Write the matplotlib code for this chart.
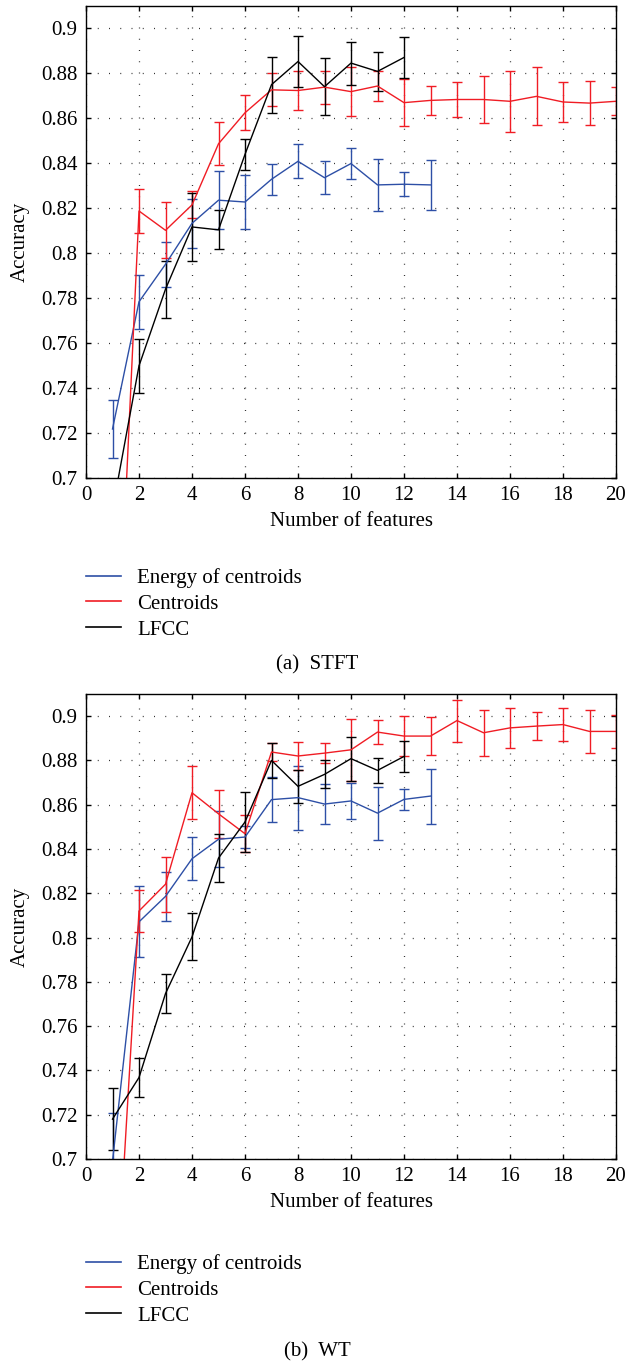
import matplotlib
matplotlib.use("Agg")
import matplotlib.pyplot as plt
from matplotlib.lines import Line2D
from matplotlib.ticker import FuncFormatter
import numpy as np

plt.rcParams['font.family'] = ['Liberation Serif', 'DejaVu Serif']
plt.rcParams['font.size'] = 15

# number of features
n_energy = np.arange(1, 14)
n_cent = np.arange(1, 21)
n_lfcc = np.arange(1, 13)

# (a) STFT
stft_energy = [0.7218, 0.7784, 0.7951, 0.8133, 0.8236, 0.8228, 0.8329, 0.8409,
               0.8336, 0.8399, 0.8304, 0.8307, 0.8304]
stft_energy_err = [0.013, 0.012, 0.010, 0.011, 0.013, 0.012, 0.007, 0.0075,
                   0.0073, 0.007, 0.0115, 0.0054, 0.011]
stft_cent = [0.564, 0.8188, 0.8102, 0.8215, 0.8487, 0.8625, 0.8727, 0.8724,
             0.8739, 0.8719, 0.8744, 0.8670, 0.8680, 0.8684, 0.8684, 0.8676,
             0.8698, 0.8673, 0.8668, 0.8676]
stft_cent_err = [0.010, 0.010, 0.0125, 0.006, 0.0095, 0.0078, 0.0074, 0.0087,
                 0.0074, 0.011, 0.0065, 0.0105, 0.0063, 0.008, 0.0105, 0.0137,
                 0.0129, 0.0089, 0.0098, 0.0062]
stft_lfcc = [0.686, 0.7499, 0.7840, 0.8117, 0.8104, 0.8440, 0.8750, 0.8853,
             0.8741, 0.8846, 0.8809, 0.8871]
stft_lfcc_err = [0.012, 0.012, 0.0127, 0.015, 0.0087, 0.007, 0.0125, 0.0115,
                 0.0128, 0.0096, 0.0088, 0.0092]

# (b) WT
wt_energy = [0.699, 0.8071, 0.8186, 0.8356, 0.8444, 0.8454, 0.8623, 0.8632,
             0.8603, 0.8617, 0.8562, 0.8624, 0.8639]
wt_energy_err = [0.022, 0.016, 0.011, 0.0097, 0.0127, 0.005, 0.010, 0.0145,
                 0.009, 0.008, 0.012, 0.0046, 0.0124]
wt_cent = [0.610, 0.8120, 0.8241, 0.8654, 0.8559, 0.8469, 0.8838, 0.8820,
           0.8833, 0.8848, 0.8928, 0.8910, 0.8910, 0.8980, 0.8925, 0.8947,
           0.8955, 0.8962, 0.8931, 0.8931]
wt_cent_err = [0.010, 0.0095, 0.0124, 0.0119, 0.0109, 0.0083, 0.0042, 0.0064,
               0.0045, 0.0139, 0.0056, 0.009, 0.0086, 0.0095, 0.0104, 0.009,
               0.0063, 0.0074, 0.0098, 0.0075]
wt_lfcc = [0.718, 0.7368, 0.7747, 0.8003, 0.8359, 0.8522, 0.8800, 0.8683,
           0.8737, 0.8808, 0.8755, 0.8818]
wt_lfcc_err = [0.014, 0.0086, 0.0088, 0.0106, 0.011, 0.0137, 0.0078, 0.0074,
               0.0063, 0.0099, 0.0057, 0.007]

labels = ['Energy of centroids', 'Centroids', 'LFCC']
colors = ['#2d4fa6', '#f01c24', '#000000']
xticks = np.arange(0, 21, 2)
yticks = np.arange(0.70, 0.901, 0.02)

W, H = 626, 1364
fig = plt.figure(figsize=(W / 100, H / 100), dpi=100)


def panel(top, bottom, series, leg_top, caption, cap_y):
    ax = fig.add_axes([86 / W, 1 - bottom / H, 530 / W, (bottom - top) / H])
    for (x, y, e), c in zip(series, colors):
        ax.errorbar(x, y, yerr=e, color=c, lw=1.0, elinewidth=1.0,
                    capsize=3.6, capthick=1.0)
    ax.set_xlim(0, 20)
    ax.set_ylim(0.7, 0.91)
    ax.set_xticks(xticks)
    ax.set_yticks(yticks)
    ax.yaxis.set_major_formatter(FuncFormatter(lambda v, p: '%g' % round(v, 2)))
    ax.grid(True, color='#333333', lw=0.9, linestyle=(0, (0.8, 8.2)))
    ax.tick_params(direction='in', top=True, right=True, length=3.6,
                   width=1.0, pad=6)
    for s in ax.spines.values():
        s.set_linewidth(1.0)
    ax.set_xlabel('Number of features', labelpad=5)
    ax.set_ylabel('Accuracy', labelpad=8)
    handles = [Line2D([], [], color=c, lw=1.2) for c in colors]
    ax.legend(handles, labels, loc='upper left',
              bbox_to_anchor=(86 / W, 1 - leg_top / H),
              bbox_transform=fig.transFigure, frameon=False, borderpad=0,
              borderaxespad=0, handlelength=1.7, handletextpad=0.75,
              labelspacing=0.3)
    fig.text(317 / W, 1 - cap_y / H, caption, ha='center', va='center')
    return ax


panel(6, 478,
      [(n_energy, stft_energy, stft_energy_err),
       (n_cent, stft_cent, stft_cent_err),
       (n_lfcc, stft_lfcc, stft_lfcc_err)],
      568, '(a)  STFT', 665)

panel(694, 1159,
      [(n_energy, wt_energy, wt_energy_err),
       (n_cent, wt_cent, wt_cent_err),
       (n_lfcc, wt_lfcc, wt_lfcc_err)],
      1254, '(b)  WT', 1352)

fig.savefig('out.png', dpi=100)
